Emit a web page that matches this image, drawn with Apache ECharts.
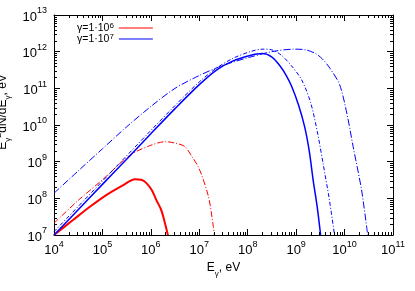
<!DOCTYPE html>
<html><head><meta charset="utf-8">
<script src="https://cdn.jsdelivr.net/npm/echarts@6/dist/echarts.min.js"></script>
<style>html,body{margin:0;padding:0;background:#fff}#c{width:415px;height:291px}</style>
</head><body><div id="c"></div>
<script>
// gamma = 1e6, solid
const r1E = [1e4, 2.5e4, 5.5e4, 1.2e5, 2.7e5, 4.7e5, 6.3e5, 8.1e5, 1.05e6, 1.3e6, 1.6e6, 1.8e6, 2.25e6];
const r1V = [1e7, 2.6e7, 5.9e7, 1.23e8, 2.3e8, 3.3e8, 3.2e8, 2.6e8, 1.65e8, 8.9e7, 5.2e7, 3.2e7, 1e7];
// gamma = 1e6, dash-dot
const r2E = [1e4, 3.2e4, 1e5, 3.7e5, 1e6, 2e6, 3.2e6, 5e6, 7e6, 1e7, 1.55e7, 1.95e7, 2.05e7];
const r2V = [2.1e7, 8.9e7, 3.2e8, 1.5e9, 2.8e9, 3.5e9, 3.2e9, 2.6e9, 1.4e9, 6.3e8, 1.1e8, 1.7e7, 1e7];
// gamma = 1e7, solid
const b1E = [1e4, 3.16e4, 1e5, 3.16e5, 1e6, 3.16e6, 1e7, 2.3e7, 5e7, 1.12e8, 2e8, 3.16e8, 4.7e8, 6.3e8, 8.1e8, 1.12e9, 1.5e9, 1.86e9, 2.24e9, 2.7e9, 3.2e9];
const b1V = [1e7, 4.9e7, 2.4e8, 1.17e9, 5.8e9, 2.8e10, 1.26e11, 3.2e11, 5.6e11, 7.9e11, 8.9e11, 7.1e11, 4e11, 2.2e11, 1.12e11, 3.5e10, 8.9e9, 2e9, 3.2e8, 6.3e7, 1e7];
// gamma = 1e7, short dash-dot
const b2E = [1e4, 1e5, 1e6, 3.16e6, 1e7, 2.3e7, 5e7, 1.12e8, 2e8, 3.16e8, 5e8, 7.9e8, 1.3e9, 2e9, 2.8e9, 3.6e9, 4.8e9, 6.2e9];
const b2V = [1.23e7, 2.95e8, 7.1e9, 3.4e10, 1.5e11, 3.6e11, 6.6e11, 1e12, 1.17e12, 1.12e12, 7.9e11, 4.2e11, 1.7e11, 4e10, 5.6e9, 8.9e8, 1e8, 1e7];
// gamma = 1e7, long dash-dot
const b3E = [1e4, 3.16e4, 1e5, 3.16e5, 1e6, 3.16e6, 1e7, 2.5e7, 5e7, 1.12e8, 3.16e8, 8.9e8, 1.58e9, 2.5e9, 3.5e9, 5e9, 7.9e9, 1.12e10, 1.5e10, 2.24e10, 3e10];
const b3V = [1.38e8, 5.6e8, 2.24e9, 8.9e9, 3.2e10, 1e11, 2.24e11, 3.8e11, 5.2e11, 7.1e11, 1e12, 1.17e12, 1.12e12, 8.9e11, 6.3e11, 3.5e11, 1.26e11, 2e10, 2.6e9, 1.7e8, 1e7];

const xMin = 1e4, xMax = 1e11, yMin = 1e7, yMax = 1e13;
const xMinor = [], yMinor = [];
for (let d = 4; d < 11; d++) for (let k = 2; k <= 9; k++) xMinor.push([k * Math.pow(10, d), yMin]);
for (let d = 7; d < 13; d++) for (let k = 2; k <= 9; k++) yMinor.push([xMin, k * Math.pow(10, d)]);

const FONT = 'Liberation Sans';
const zip = (a, b) => a.map((v, i) => [v, b[i]]);
const expFmt = v => '{b|10}{s|' + Math.round(Math.log10(v)) + '}';
const tickRich = {
  b: { fontSize: 13, fontFamily: FONT, color: '#000', verticalAlign: 'bottom', lineHeight: 17 },
  s: { fontSize: 9, fontFamily: FONT, color: '#000', verticalAlign: 'top' }
};
const axisCommon = {
  type: 'log', logBase: 10, interval: 1,
  splitLine: { show: false },
  axisLine: { show: true, onZero: false, lineStyle: { color: '#000', width: 1 } },
  axisTick: { show: true, inside: true, length: 6, lineStyle: { color: '#000' } }
};
function line(name, E, V, color, width, type) {
  return { name, type: 'line', data: zip(E, V), showSymbol: false, symbol: 'none', smooth: 0.3,
    lineStyle: { color, width, type }, itemStyle: { color }, z: 3 };
}
function minorTicks(data, isX) {
  return { type: 'custom', silent: true, data, z: 4,
    renderItem: (params, api) => {
      const st = { stroke: '#000', lineWidth: 1 };
      if (isX) {
        const v = api.value(0);
        const p = api.coord([v, yMin]), q = api.coord([v, yMax]);
        const x = Math.round(p[0]) + 0.5;
        return { type: 'group', children: [
          { type: 'line', shape: { x1: x, y1: p[1], x2: x, y2: p[1] - 3 }, style: st },
          { type: 'line', shape: { x1: x, y1: q[1], x2: x, y2: q[1] + 3 }, style: st }] };
      } else {
        const v = api.value(1);
        const p = api.coord([xMin, v]), q = api.coord([xMax, v]);
        const y = Math.round(p[1]) + 0.5;
        return { type: 'group', children: [
          { type: 'line', shape: { x1: p[0], y1: y, x2: p[0] + 3, y2: y }, style: st },
          { type: 'line', shape: { x1: q[0], y1: y, x2: q[0] - 3, y2: y }, style: st }] };
      }
    } };
}

const chart = echarts.init(document.getElementById('c'), null, { renderer: 'canvas' });
chart.setOption({
  animation: false,
  backgroundColor: '#fff',
  grid: { left: 54, right: 22, top: 15, bottom: 56, containLabel: false, outerBoundsMode: 'none' },
  legend: {
    data: ['g6', 'g7'], orient: 'vertical', left: 72, top: 17, align: 'right',
    icon: 'rect', itemWidth: 34, itemHeight: 1.2, itemGap: -1, itemStyle: { borderWidth: 0 },
    formatter: n => n === 'g6' ? '{b|γ=1·10}{s|6}' : '{b|γ=1·10}{s|7}',
    textStyle: { rich: {
      b: { fontSize: 10.5, fontFamily: FONT, color: '#000', verticalAlign: 'bottom', lineHeight: 12 },
      s: { fontSize: 8, fontFamily: FONT, color: '#000', verticalAlign: 'top' } } }
  },
  xAxis: [
    Object.assign({}, axisCommon, { min: xMin, max: xMax, position: 'bottom',
      axisLabel: { formatter: expFmt, margin: 5, rich: tickRich },
      name: '{b|E}{u|γ}{b|, eV}', nameLocation: 'middle', nameGap: 24,
      nameTextStyle: { rich: {
        b: { fontSize: 12, fontFamily: FONT, color: '#000', verticalAlign: 'top', lineHeight: 16 },
        u: { fontSize: 8, fontFamily: FONT, color: '#000', verticalAlign: 'bottom' } } } }),
    Object.assign({}, axisCommon, { min: xMin, max: xMax, position: 'top', axisLabel: { show: false } })
  ],
  yAxis: [
    Object.assign({}, axisCommon, { min: yMin, max: yMax, position: 'left',
      axisLabel: { formatter: expFmt, margin: 7, rich: tickRich },
      name: '{b|E}{u|γ}{p|2}{b|dN/dE}{u|γ}{b|, eV}', nameLocation: 'middle', nameRotate: 90, nameGap: 27,
      nameTextStyle: { padding: [0, 0, 0, 26], rich: {
        b: { fontSize: 12, fontFamily: FONT, color: '#000', verticalAlign: 'middle', lineHeight: 18 },
        u: { fontSize: 8, fontFamily: FONT, color: '#000', verticalAlign: 'bottom' },
        p: { fontSize: 9, fontFamily: FONT, color: '#000', verticalAlign: 'top' } } } }),
    Object.assign({}, axisCommon, { min: yMin, max: yMax, position: 'right', axisLabel: { show: false } })
  ],
  series: [
    line('g6', r1E, r1V, '#ff0000', 2, 'solid'),
    line('r2', r2E, r2V, '#ff0000', 1, [6, 2, 1, 2]),
    line('g7', b1E, b1V, '#0000ff', 1.5, 'solid'),
    line('b2', b2E, b2V, '#0000ff', 1, [4, 2, 1, 2]),
    line('b3', b3E, b3V, '#0000ff', 1, [7, 2, 1, 2]),
    minorTicks(xMinor, true),
    minorTicks(yMinor, false)
  ]
});
</script></body></html>
